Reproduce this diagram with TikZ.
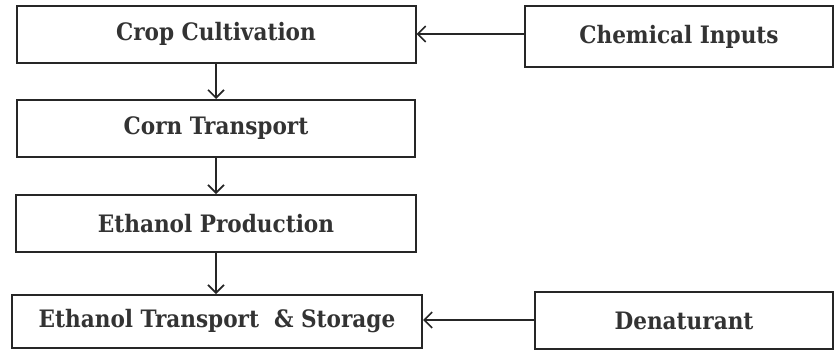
\documentclass[tikz,border=0pt]{standalone}
\usepackage{fontspec}
\setmainfont{DejaVu Serif Condensed}
\usetikzlibrary{arrows.meta}
\begin{document}
\begin{tikzpicture}[x=1pt,y=-1pt,
  box/.style={draw=black!85, line width=2pt, inner sep=0pt, font=\bfseries\fontsize{24}{27}\selectfont, text=black!80},
  arr/.style={draw=black!85, line width=1.6pt, -{Straight Barb[length=8pt,width=16pt,line width=1.6pt]}}]
\useasboundingbox (0,0) rectangle (835,351);
\node[box, minimum width=399pt, minimum height=57pt] (crop) at (216,34) {Crop Cultivation};
\node[box, minimum width=398pt, minimum height=57pt] (corn) at (216,128.5) {Corn Transport};
\node[box, minimum width=400pt, minimum height=57pt] (prod) at (216,223.5) {Ethanol Production};
\node[box, minimum width=410pt, minimum height=53pt] (trans) at (217,321.5) {Ethanol Transport\ \ \& Storage};
\node[box, minimum width=308pt, minimum height=61pt] (chem) at (679,36.5) {Chemical Inputs};
\node[box, minimum width=298pt, minimum height=57pt] (den) at (684,320.5) {Denaturant};
\draw[arr] (crop.south) -- (corn.north);
\draw[arr] (corn.south) -- (prod.north);
\draw[arr] (prod.south) -- (prod.south |- trans.north);
\draw[arr] (chem.west |- crop.east) -- (crop.east);
\draw[arr] (den.west |- 0,320) -- (trans.east |- 0,320);
\end{tikzpicture}
\end{document}
